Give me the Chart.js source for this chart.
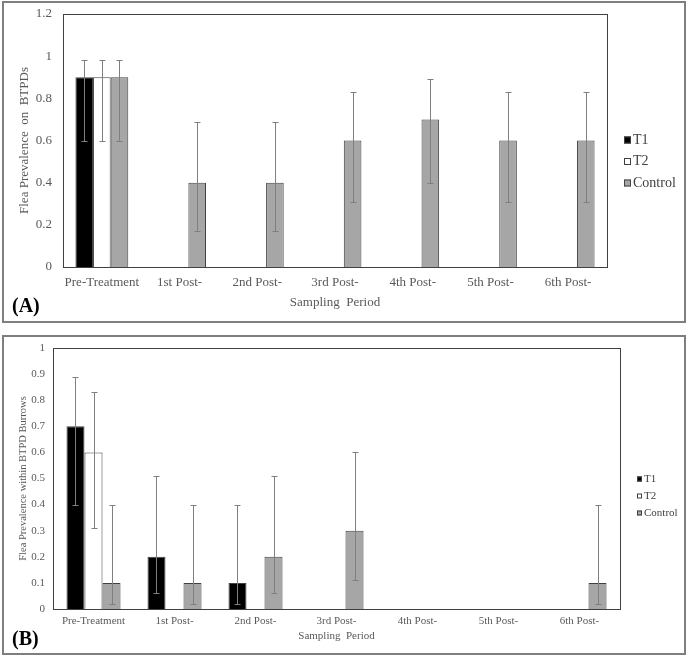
<!DOCTYPE html>
<html>
<head>
<meta charset="utf-8">
<script src="https://cdn.jsdelivr.net/npm/chart.js@4.4.1/dist/chart.umd.min.js"></script>
<style>
  html, body { margin: 0; padding: 0; background: #fff; }
  .panel { position: absolute; left: 2px; width: 680px; border: 2px solid #7f7f7f; background: #fff; }
  #panelA { top: 1px; height: 318px; }
  #panelB { top: 335px; height: 316px; }
  canvas { display: block; }
</style>
</head>
<body>
<div class="panel" id="panelA"><canvas id="chartA" width="680" height="318"></canvas></div>
<div class="panel" id="panelB"><canvas id="chartB" width="680" height="316"></canvas></div>
<script>
const periods = ['Pre-Treatment', '1st Post-', '2nd Post-', '3rd Post-', '4th Post-', '5th Post-', '6th Post-'];
const seriesNames = ['T1', 'T2', 'Control'];

// (A) flea prevalence on BTPDs
const aT1 = [0.9, 0, 0, 0, 0, 0, 0];
const aT2 = [0.9, 0, 0, 0, 0, 0, 0];
const aControl = [0.9, 0.4, 0.4, 0.6, 0.7, 0.6, 0.6];
const aT1Low = [0.6, null, null, null, null, null, null];
const aT1High = [0.98, null, null, null, null, null, null];
const aT2Low = [0.6, null, null, null, null, null, null];
const aT2High = [0.98, null, null, null, null, null, null];
const aControlLow = [0.6, 0.17, 0.17, 0.31, 0.4, 0.31, 0.31];
const aControlHigh = [0.98, 0.69, 0.69, 0.83, 0.89, 0.83, 0.83];

// (B) flea prevalence within BTPD burrows
const bT1 = [0.7, 0.2, 0.1, 0, 0, 0, 0];
const bT2 = [0.6, 0, 0, 0, 0, 0, 0];
const bControl = [0.1, 0.1, 0.2, 0.3, 0, 0, 0.1];
const bT1Low = [0.4, 0.06, 0.02, null, null, null, null];
const bT1High = [0.89, 0.51, 0.4, null, null, null, null];
const bT2Low = [0.31, null, null, null, null, null, null];
const bT2High = [0.83, null, null, null, null, null, null];
const bControlLow = [0.02, 0.02, 0.06, 0.11, null, null, 0.02];
const bControlHigh = [0.4, 0.4, 0.51, 0.6, null, null, 0.4];

const fills = ['#000000', '#ffffff', '#a6a6a6'];
const edge = '#404040';
const labelGrey = '#595959';

Chart.defaults.font.family = '"Liberation Serif", "Times New Roman", serif';
Chart.defaults.color = labelGrey;

// error bars drawn from the dataset's errLow / errHigh
const errorBars = {
  id: 'errorBars',
  afterDatasetsDraw(chart) {
    const ctx = chart.ctx, y = chart.scales.y;
    ctx.save();
    ctx.strokeStyle = '#7f7f7f';
    ctx.lineWidth = 1;
    chart.data.datasets.forEach((ds, di) => {
      chart.getDatasetMeta(di).data.forEach((bar, i) => {
        const lo = ds.errLow[i], hi = ds.errHigh[i];
        if (lo == null || hi == null) return;
        const x = Math.round(bar.x) + 0.5;
        const y1 = Math.round(y.getPixelForValue(hi)) + 0.5;
        const y2 = Math.round(y.getPixelForValue(lo)) + 0.5;
        ctx.beginPath();
        ctx.moveTo(x, y1); ctx.lineTo(x, y2);
        ctx.moveTo(x - 3, y1); ctx.lineTo(x + 3, y1);
        ctx.moveTo(x - 3, y2); ctx.lineTo(x + 3, y2);
        ctx.stroke();
      });
    });
    ctx.restore();
  }
};

// plot frame, legend and panel letter
const extras = {
  id: 'extras',
  afterDraw(chart, args, o) {
    const ctx = chart.ctx, a = chart.chartArea;
    ctx.save();
    ctx.strokeStyle = edge;
    ctx.lineWidth = 1;
    ctx.strokeRect(Math.round(a.left) + 0.5, Math.round(a.top) + 0.5,
      Math.round(a.right - a.left), Math.round(a.bottom - a.top));

    ctx.font = o.legendSize + 'px "Liberation Serif", serif';
    ctx.textBaseline = 'middle';
    chart.data.datasets.forEach((ds, i) => {
      const cy = o.legendY + i * o.legendGap;
      ctx.fillStyle = ds.backgroundColor;
      ctx.fillRect(o.legendX, cy - o.box / 2, o.box, o.box);
      ctx.strokeStyle = edge;
      ctx.strokeRect(o.legendX + 0.5, cy - o.box / 2 + 0.5, o.box - 1, o.box - 1);
      ctx.fillStyle = '#404040';
      ctx.fillText(ds.label, o.legendX + o.box + 2, cy);
    });

    ctx.fillStyle = '#000';
    ctx.font = 'bold 20px "Liberation Serif", serif';
    ctx.fillText(o.letter, 8, o.letterY);
    ctx.restore();
  }
};

function makeChart(id, cfg) {
  const sets = [cfg.t1, cfg.t2, cfg.control];
  return new Chart(document.getElementById(id), {
    type: 'bar',
    data: {
      labels: periods,
      datasets: seriesNames.map((name, i) => ({
        label: name,
        data: sets[i],
        errLow: cfg.lows[i],
        errHigh: cfg.highs[i],
        backgroundColor: fills[i],
        borderColor: edge,
        borderWidth: 1,
        categoryPercentage: cfg.catPct,
        barPercentage: 1
      }))
    },
    options: {
      responsive: false,
      animation: false,
      layout: { padding: { left: 0, top: cfg.padTop, right: cfg.padRight, bottom: 0 } },
      plugins: {
        legend: { display: false },
        tooltip: { enabled: false },
        extras: cfg.extras
      },
      scales: {
        x: {
          grid: { display: false, drawTicks: false },
          border: { display: false },
          ticks: { font: { size: cfg.fontSize }, padding: cfg.xPad, color: labelGrey, maxRotation: 0 },
          title: { display: true, text: 'Sampling  Period', font: { size: cfg.fontSize }, color: labelGrey,
                   padding: { top: 0, bottom: cfg.xTitlePad } },
          afterFit: s => { s.height = cfg.xHeight; }
        },
        y: {
          min: 0, max: cfg.yMax,
          grid: { display: false, drawTicks: false },
          border: { display: false },
          ticks: {
            stepSize: cfg.step, font: { size: cfg.fontSize }, padding: cfg.yPad, color: labelGrey,
            callback: v => String(Number(v.toFixed(1)))
          },
          title: { display: true, text: cfg.yTitle, font: { size: cfg.yTitleSize }, color: labelGrey,
                   padding: { top: cfg.yTitlePad, bottom: 0 } },
          afterFit: s => { s.width = cfg.yWidth; s.paddingTop = 0; s.paddingBottom = 0; }
        }
      }
    },
    plugins: [errorBars, extras]
  });
}

makeChart('chartA', {
  t1: aT1, t2: aT2, control: aControl,
  lows: [aT1Low, aT2Low, aControlLow], highs: [aT1High, aT2High, aControlHigh],
  catPct: 0.68, yMax: 1.2, step: 0.2, fontSize: 13, yTitleSize: 13,
  yTitle: 'Flea Prevalence  on  BTPDs',
  padTop: 11, padRight: 77, yWidth: 59, xHeight: 54, xPad: 8, xTitlePad: 11, yPad: 11, yTitlePad: 13,
  extras: { legendX: 620, legendY: 137, legendGap: 21.5, box: 7, legendSize: 14, letter: '(A)', letterY: 304 }
});

makeChart('chartB', {
  t1: bT1, t2: bT2, control: bControl,
  lows: [bT1Low, bT2Low, bControlLow], highs: [bT1High, bT2High, bControlHigh],
  catPct: 0.667, yMax: 1, step: 0.1, fontSize: 11, yTitleSize: 10.5,
  yTitle: 'Flea Prevalence within BTPD Burrows',
  padTop: 11, padRight: 64, yWidth: 49, xHeight: 44, xPad: 6, xTitlePad: 10, yPad: 8, yTitlePad: 12.7,
  extras: { legendX: 633, legendY: 142, legendGap: 17, box: 5, legendSize: 11, letter: '(B)', letterY: 303 }
});
</script>
</body>
</html>
